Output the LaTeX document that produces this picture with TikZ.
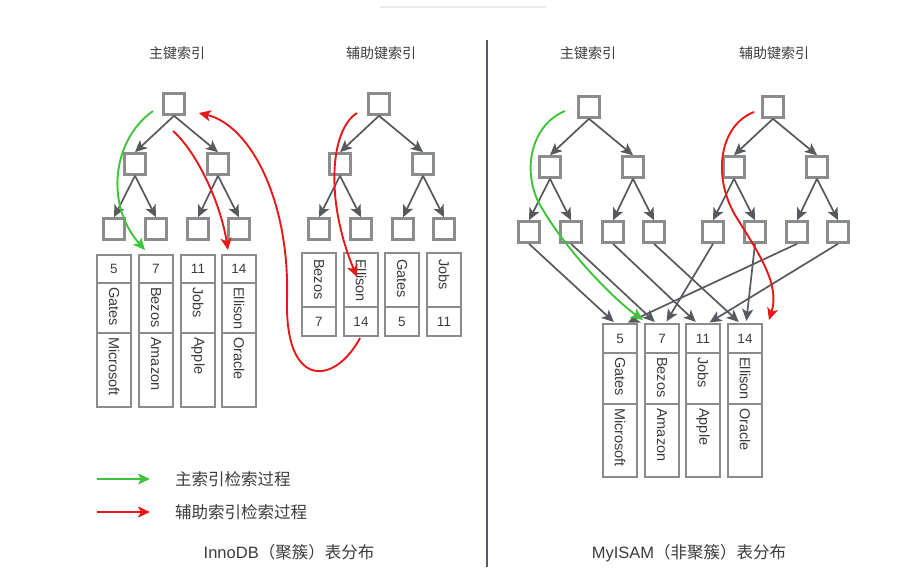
\documentclass[tikz,border=0pt]{standalone}
\usepackage{fontspec}
\setmainfont{Liberation Sans}
\newfontfamily\cjk{Noto Sans CJK SC}
\usetikzlibrary{arrows.meta,positioning}

\definecolor{linegray}{RGB}{86,89,93}
\definecolor{boxgray}{RGB}{140,140,140}
\definecolor{txtgray}{RGB}{60,60,60}
\definecolor{pathgreen}{RGB}{62,196,58}
\definecolor{pathred}{RGB}{232,24,24}

\tikzset{
  knot/.style={draw=boxgray, line width=2.6pt, fill=white, minimum size=21pt, inner sep=0pt},
  tarrow/.style={draw=linegray, line width=1.7pt, -{Stealth[length=12pt,width=11pt,inset=3pt]}},
  cell/.style={draw=boxgray, line width=1.7pt, fill=white, minimum width=34pt, inner sep=0pt, outer sep=0pt,
    text=txtgray, font=\fontsize{13.5}{15}\selectfont},
  vtext/.style={rotate=-90, anchor=west, inner sep=0pt, text=txtgray, font=\fontsize{14.5}{16}\selectfont},
  gpath/.style={draw=pathgreen, line width=1.9pt, -{Stealth[length=12pt,width=11pt,inset=3pt]}},
  rpath/.style={draw=pathred, line width=1.9pt, -{Stealth[length=12pt,width=11pt,inset=3pt]}},
  headtext/.style={text=txtgray, font=\cjk\fontsize{14}{16}\selectfont},
  legtext/.style={anchor=west, inner sep=0pt, text=txtgray, font=\cjk\fontsize{16.5}{20}\selectfont},
  captext/.style={text=txtgray, font=\fontsize{16.5}{20}\selectfont}
}

% binary tree of index pages: prefix, root x, root y
\newcommand{\btree}[3]{%
  \node[knot] (#1r) at (#2,#3) {};
  \node[knot] (#1a) at (#2-39,#3+60) {};
  \node[knot] (#1b) at (#2+44,#3+60) {};
  \foreach \dx [count=\k] in {-60,-18,24,65}
    \node[knot] (#1l\k) at (#2+\dx,#3+125) {};
  \draw[tarrow] (#1r.south) -- (#1a.north);
  \draw[tarrow] (#1r.south) -- (#1b.north);
  \draw[tarrow] (#1a.south) -- (#1l1.north);
  \draw[tarrow] (#1a.south) -- (#1l2.north);
  \draw[tarrow] (#1b.south) -- (#1l3.north);
  \draw[tarrow] (#1b.south) -- (#1l4.north);
}

\begin{document}
\begin{tikzpicture}[x=1pt,y=-1pt]
  \useasboundingbox (0,0) rectangle (898,574);

  \draw[black!8, line width=1.5pt] (380,7) -- (546,7);
  \draw[linegray, line width=2.6pt] (487,40) -- (487,567);

  % titles
  \node[headtext] (h1) at (177,53) {主键索引};
  \node[headtext] (h2) at (381,53) {辅助键索引};
  \node[headtext] (h3) at (588,53) {主键索引};
  \node[headtext] (h4) at (774,53) {辅助键索引};

  % trees
  \btree{ip}{174}{104}
  \btree{is}{379}{104}
  \btree{mp}{589}{107}
  \btree{ms}{773}{107}

  % InnoDB primary records
  \foreach \cx/\num/\who/\firm [count=\i] in {114/5/Gates/Microsoft, 156/7/Bezos/Amazon,
      198/11/Jobs/Apple, 239/14/Ellison/Oracle} {
    \node[cell, minimum height=28pt] (ik\i) at (\cx,269) {\num};
    \node[cell, minimum height=50pt, below=0pt of ik\i] (iw\i) {};
    \node[cell, minimum height=74pt, below=0pt of iw\i] (ic\i) {};
    \node[vtext] (in\i) at ([yshift=-4pt]iw\i.north) {\who};
    \node[vtext] (if\i) at ([yshift=-4pt]ic\i.north) {\firm};
  }

  % InnoDB secondary records
  \foreach \cx/\num/\who [count=\i] in {319/7/Bezos, 361/14/Ellison, 402/5/Gates, 444/11/Jobs} {
    \node[cell, minimum height=54pt] (sw\i) at (\cx,280) {};
    \node[cell, minimum height=29pt, below=0pt of sw\i] (sk\i) {\num};
    \node[vtext] (sn\i) at ([yshift=-6pt]sw\i.north) {\who};
  }

  % MyISAM records
  \foreach \cx/\num/\who/\firm [count=\i] in {620/5/Gates/Microsoft, 662/7/Bezos/Amazon,
      703/11/Jobs/Apple, 745/14/Ellison/Oracle} {
    \node[cell, minimum height=29pt] (mk\i) at (\cx,338.5) {\num};
    \node[cell, minimum height=51pt, below=0pt of mk\i] (mw\i) {};
    \node[cell, minimum height=73pt, below=0pt of mw\i] (mc\i) {};
    \node[vtext] (mn\i) at ([yshift=-4pt]mw\i.north) {\who};
    \node[vtext] (mf\i) at ([yshift=-4pt]mc\i.north) {\firm};
  }

  % MyISAM leaves point into the data file
  \foreach \a/\b/\s in {mpl1/mk1/-4, mpl2/mk2/-5, mpl3/mk3/-5, mpl4/mk4/-4,
      msl1/mk2/3, msl2/mk4/1, msl3/mk1/5, msl4/mk3/4}
    \draw[tarrow, shorten >=3pt] (\a.south) -- ([xshift=\s pt]\b.north);

  % search paths
  \draw[gpath] ([shift={(-21,7)}]ipr.center) .. controls (112,140) and (105,205) .. ([shift={(-11,-5)}]ik2.north);
  \draw[rpath] ([shift={(-1,27)}]ipr.center) .. controls (195,150) and (220,200) .. ([shift={(-11,-5)}]ik4.north);
  \draw[rpath] ([shift={(-22,9)}]isr.center) .. controls (330,130) and (325,200) .. ([shift={(-4,-3)}]sw2.center);
  \draw[rpath] ([shift={(-1,2)}]sk2.south) .. controls (335,385) and (285,390) .. (287,300)
    .. controls (290,200) and (250,125) .. ([shift={(13,9)}]ipr.east);
  \draw[gpath] ([shift={(-24,4)}]mpr.center) .. controls (530,125) and (520,175) .. (543,210)
    .. controls (570,255) and (615,300) .. ([shift={(-19,-4)}]mk2.north);
  \draw[rpath] ([shift={(-19,5)}]msr.center) .. controls (720,125) and (712,175) .. (735,215)
    .. controls (760,255) and (780,285) .. ([shift={(24,-4)}]mk4.north);

  % legend
  \node[legtext] (lg1) at (175,479) {主索引检索过程};
  \node[legtext] (lg2) at (175,512) {辅助索引检索过程};
  \coordinate (g0) at (97,479);
  \coordinate (r0) at (97,512);
  \draw[gpath] (g0) -- ([xshift=-25pt]lg1.west);
  \draw[rpath] (r0) -- ([xshift=-25pt]lg2.west);

  % captions
  \node[captext] (cp1) at (289,552) {InnoDB{\cjk（聚簇）表分布}};
  \node[captext] (cp2) at (689,553) {MyISAM{\cjk（非聚簇）表分布}};
\end{tikzpicture}
\end{document}
